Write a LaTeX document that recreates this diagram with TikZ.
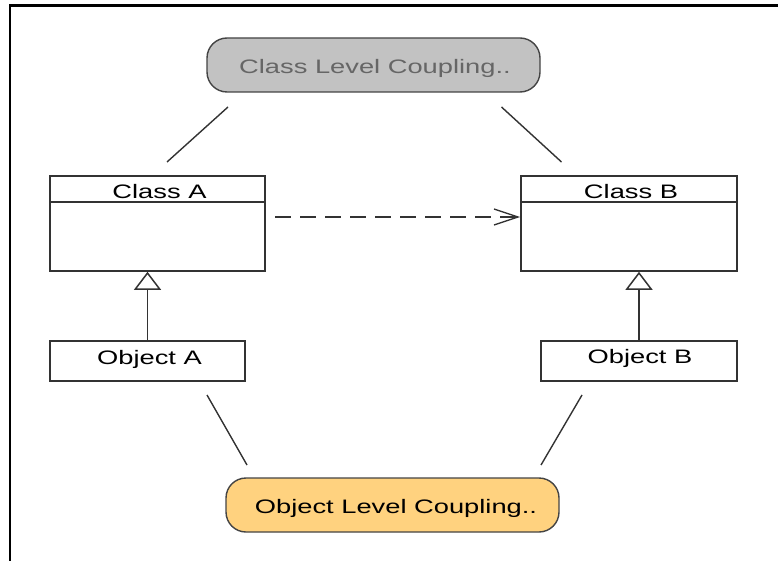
\documentclass[tikz,border=0pt]{standalone}
\usepackage{fontspec}
\setmainfont[FakeStretch=1.4]{Liberation Sans}
\usetikzlibrary{arrows.meta,calc}
\definecolor{grayfill}{HTML}{C2C2C2}
\definecolor{graytext}{HTML}{666666}
\definecolor{orangefill}{HTML}{FFD27F}
\definecolor{boxline}{HTML}{333333}
\definecolor{pillline}{HTML}{444444}
\begin{document}
\begin{tikzpicture}[x=1pt,y=-1pt,
  txt/.style={anchor=base,inner sep=0pt,font=\fontsize{19.5}{23}\selectfont},
  box/.style={draw=boxline,line width=1.6pt,fill=white,inner sep=0pt},
  pill/.style={draw=pillline,line width=1.4pt,rounded corners=20pt,inner sep=0pt,minimum width=333pt,minimum height=54pt},
  link/.style={draw=boxline,line width=1.4pt},
  gen/.style={draw=boxline,line width=1.6pt,-{Triangle[open,length=18pt,width=27pt,line width=1.5pt]}},
  dep/.style={draw=boxline,line width=1.4pt,dash pattern=on 16pt off 9pt,-{Straight Barb[length=24pt,width=16pt,line width=1.4pt]}}]
\useasboundingbox (0,0) rectangle (778,561);
% frame
\draw[line width=2.6pt] (9,5.5) -- (778,5.5);
\draw[line width=2.6pt] (10,4.2) -- (10,561);
% coupling pills
\node[pill,fill=grayfill] (classLvl) at (373.5,65) {};
\node[txt,text=graytext] (classLvlText) at (375,73.3) {Class Level Coupling..};
\node[pill,fill=orangefill] (objLvl) at (392.5,505) {};
\node[txt] (objLvlText) at (396,513.5) {Object Level Coupling..};
% classes
\node[box,minimum width=215pt,minimum height=95pt] (classA) at (157.5,223.5) {};
\draw[draw=boxline,line width=1.6pt] ($(classA.north west)+(0,27)$) -- ($(classA.north east)+(0,27)$);
\node[txt] (classAname) at (159.5,199) {Class A};
\node[box,minimum width=216pt,minimum height=95pt] (classB) at (629,223.5) {};
\draw[draw=boxline,line width=1.6pt] ($(classB.north west)+(0,27)$) -- ($(classB.north east)+(0,27)$);
\node[txt] (classBname) at (631,199) {Class B};
% objects
\node[box,minimum width=195pt,minimum height=40pt] (objA) at (147.5,361) {};
\node[txt] (objAname) at (149.5,364.3) {Object A};
\node[box,minimum width=196pt,minimum height=40pt] (objB) at (639,361) {};
\node[txt] (objBname) at (640,363.7) {Object B};
% generalizations
\draw[gen] (objA.north) -- (objA.north |- classA.south);
\draw[gen] (objB.north) -- (objB.north |- classB.south);
% dependency
\coordinate (depStart) at (275,217);
\draw[dep] (depStart) -- (depStart -| classB.west);
% coupling links
\coordinate (ca1) at (228,107); \coordinate (ca2) at (167,162);
\coordinate (cb1) at (501.5,107); \coordinate (cb2) at (561.5,162);
\coordinate (oa1) at (207,395); \coordinate (oa2) at (247,465);
\coordinate (ob1) at (582,395); \coordinate (ob2) at (541,465);
\draw[link] (ca1) -- (ca2);
\draw[link] (cb1) -- (cb2);
\draw[link] (oa1) -- (oa2);
\draw[link] (ob1) -- (ob2);
\end{tikzpicture}
\end{document}
